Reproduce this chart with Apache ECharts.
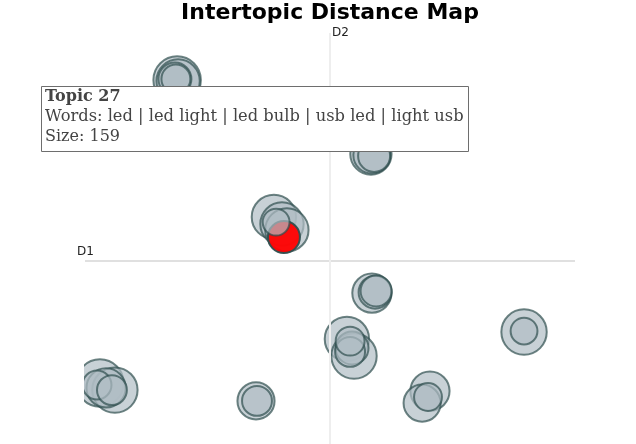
<!DOCTYPE html>
<html>
<head>
<meta charset="utf-8">
<script src="https://cdn.jsdelivr.net/npm/echarts@6/dist/echarts.min.js"></script>
<style>
    html, body { margin: 0; padding: 0; background: #fff; }
    #chart { width: 636px; height: 444px; }
</style>
</head>
<body>
<div id="chart"></div>
<script>
// topic coordinates in the 2D embedding (D1, D2) and topic sizes (documents)
let topicX = [-6.24, -6.20, -6.33, -6.29, 1.67, 1.71, 1.80, -2.29, -1.96, -1.76, -1.88, -2.20,
    1.71, 1.84, 1.88, 7.92, 7.92, 0.69, 0.98, 0.90, 0.82, 0.82,
    4.08, 3.76, 4.00, -3.02, -2.98, -9.39, -8.78, -9.14, -9.51, -8.90];
let topicY = [7.39, 7.35, 7.43, 7.43, 4.37, 4.33, 4.29, 1.80, 1.51, 1.27, 0.98, 1.59,
    -1.31, -1.27, -1.22, -2.90, -2.86, -3.18, -3.88, -3.55, -3.71, -3.27,
    -5.31, -5.80, -5.55, -5.71, -5.71, -4.98, -5.27, -5.18, -5.06, -5.27];
let topicSize = [350, 292, 169, 130, 265, 214, 159, 306, 292, 292, 159, 112,
    239, 169, 149, 320, 112, 306, 320, 169, 139, 130,
    239, 214, 121, 214, 139, 350, 320, 239, 130, 139];
let selected = 10; // Topic 27
let hoverLines = ['Topic 27', 'Words: led | led light | led bulb | usb led | light usb', 'Size: 159'];

let points = [];
for (let i = 0; i < topicX.length; i++) {
    let p = { value: [topicX[i], topicY[i], topicSize[i]] };
    if (i === selected) {
        p.itemStyle = { color: 'red', opacity: 0.95 };
    }
    points.push(p);
}

const chart = echarts.init(document.getElementById('chart'));

chart.setOption({
    backgroundColor: '#ffffff',
    animation: false,
    grid: { left: 85, right: 61, top: 33, bottom: 0 },
    xAxis: { type: 'value', min: -10, max: 10, show: false },
    yAxis: { type: 'value', min: -7.47, max: 9.31, show: false },
    series: [{
        type: 'scatter',
        data: points,
        symbolSize: function (v) {
            return 32 * Math.sqrt(v[2] / 159);
        },
        itemStyle: {
            color: '#B0BEC5',
            borderColor: '#2F4F4F',
            borderWidth: 2,
            opacity: 0.7
        },
        markLine: {
            silent: true,
            symbol: 'none',
            label: { show: false },
            data: [
                { yAxis: 0, lineStyle: { color: '#e0e0e0', width: 2, type: 'solid' } },
                { xAxis: 0, lineStyle: { color: '#eeeeee', width: 2, type: 'solid' } }
            ]
        }
    }],
    graphic: [
        // hide bubbles spilling left of the plot
        { type: 'rect', left: 0, top: 33, z: 50, shape: { width: 84, height: 411 }, style: { fill: '#fff' } },
        {
            type: 'text', x: 330, y: 13, z: 60,
            style: {
                text: 'Intertopic Distance Map', fill: '#000',
                font: 'bold 22px "DejaVu Sans"', align: 'center', verticalAlign: 'middle'
            }
        },
        { type: 'text', x: 332, y: 33, z: 60, style: { text: 'D2', fill: '#222', font: '12px "DejaVu Sans"', verticalAlign: 'middle' } },
        { type: 'text', x: 77, y: 252, z: 60, style: { text: 'D1', fill: '#222', font: '12px "DejaVu Sans"', verticalAlign: 'middle' } },
        // hover box of the selected topic
        { type: 'rect', z: 100, shape: { x: 41.5, y: 86.5, width: 427, height: 65 }, style: { fill: '#fff', stroke: '#6e6e6e', lineWidth: 1 } },
        { type: 'text', z: 101, x: 45, y: 97, style: { text: hoverLines[0], fill: '#444', font: 'bold 16px "DejaVu Serif"', verticalAlign: 'middle' } },
        { type: 'text', z: 101, x: 45, y: 117, style: { text: hoverLines[1], fill: '#444', font: '16.3px "DejaVu Serif"', verticalAlign: 'middle' } },
        { type: 'text', z: 101, x: 45, y: 137, style: { text: hoverLines[2], fill: '#444', font: '16px "DejaVu Serif"', verticalAlign: 'middle' } }
    ]
});
</script>
</body>
</html>
